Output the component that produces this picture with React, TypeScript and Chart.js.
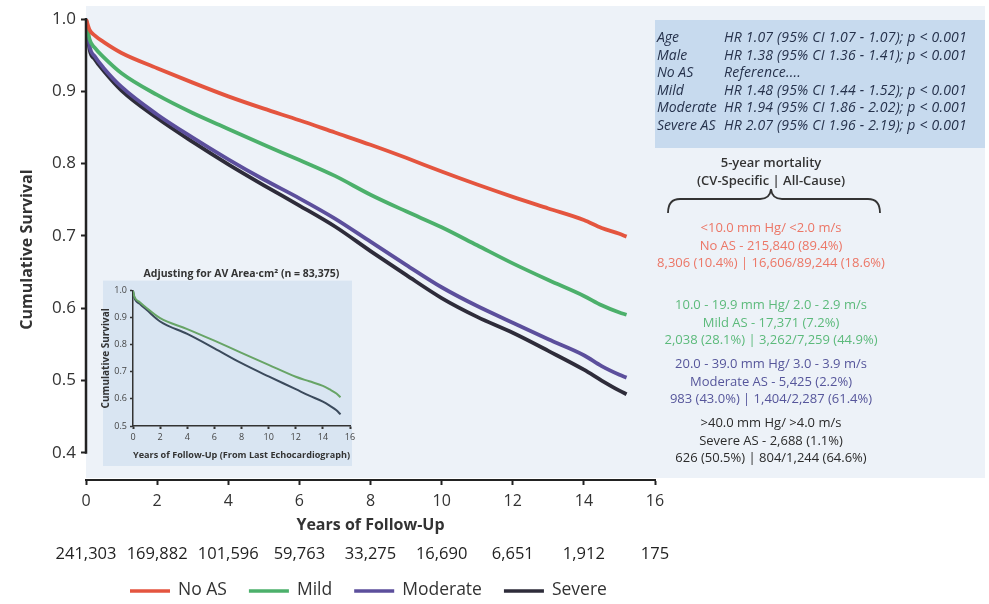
import React, { useEffect, useRef } from 'react';
import { Chart, registerables } from 'chart.js';

Chart.register(...registerables);

const FONT = '"Open Sans", "DejaVu Sans", sans-serif';

// ---- main chart data ----
const years = [0, 0.1, 0.25, 0.5, 1, 2, 3, 4, 5, 6, 7, 8, 9, 10, 11, 12, 13, 14, 14.5, 15, 15.2];
const noAS = [1.0, 0.985, 0.977, 0.968, 0.953, 0.932, 0.912, 0.893, 0.876, 0.86, 0.843, 0.826, 0.808, 0.789, 0.771, 0.754, 0.738, 0.722, 0.711, 0.703, 0.699];
const mild = [1.0, 0.972, 0.96, 0.947, 0.925, 0.895, 0.87, 0.848, 0.826, 0.805, 0.783, 0.757, 0.734, 0.712, 0.687, 0.662, 0.639, 0.617, 0.604, 0.594, 0.591];
const moderate = [1.0, 0.962, 0.948, 0.932, 0.906, 0.868, 0.836, 0.806, 0.778, 0.752, 0.724, 0.692, 0.66, 0.629, 0.603, 0.58, 0.557, 0.535, 0.52, 0.508, 0.504];
const severe = [1.0, 0.958, 0.944, 0.928, 0.901, 0.863, 0.83, 0.799, 0.77, 0.742, 0.713, 0.679, 0.646, 0.614, 0.588, 0.566, 0.541, 0.515, 0.5, 0.486, 0.481];

const seriesNames = ['No AS', 'Mild', 'Moderate', 'Severe'];
const seriesColors = ['#e4553f', '#4cb06b', '#5c4f9c', '#2e2c3a'];

const yTicks = [0.4, 0.5, 0.6, 0.7, 0.8, 0.9, 1.0];
const riskYears = [0, 2, 4, 6, 8, 10, 12, 14, 16];
const riskCounts = ['241,303', '169,882', '101,596', '59,763', '33,275', '16,690', '6,651', '1,912', '175'];

// ---- inset data ----
const insetYears = [0, 0.1, 0.5, 1, 2, 4, 6, 8, 10, 12, 13, 14, 14.5, 15, 15.3];
const insetMild = [1.0, 0.978, 0.957, 0.936, 0.898, 0.858, 0.815, 0.77, 0.726, 0.682, 0.665, 0.648, 0.635, 0.62, 0.606];
const insetSevere = [1.0, 0.974, 0.951, 0.929, 0.886, 0.84, 0.787, 0.732, 0.683, 0.636, 0.612, 0.59, 0.575, 0.558, 0.543];
const insetTicksY = [0.5, 0.6, 0.7, 0.8, 0.9, 1.0];

// ---- text panel ----
const hrLabels = ['Age', 'Male', 'No AS', 'Mild', 'Moderate', 'Severe AS'];
const hrValues = [
  'HR 1.07 (95% CI 1.07 - 1.07); p < 0.001',
  'HR 1.38 (95% CI 1.36 - 1.41); p < 0.001',
  'Reference....',
  'HR 1.48 (95% CI 1.44 - 1.52); p < 0.001',
  'HR 1.94 (95% CI 1.86 - 2.02); p < 0.001',
  'HR 2.07 (95% CI 1.96 - 2.19); p < 0.001',
];
const groupRanges = ['<10.0 mm Hg/ <2.0 m/s', '10.0 - 19.9 mm Hg/ 2.0 - 2.9 m/s', '20.0 - 39.0 mm Hg/ 3.0 - 3.9 m/s', '>40.0 mm Hg/ >4.0 m/s'];
const groupCounts = ['No AS - 215,840 (89.4%)', 'Mild AS - 17,371 (7.2%)', 'Moderate AS - 5,425 (2.2%)', 'Severe AS - 2,688 (1.1%)'];
const groupMortality = ['8,306 (10.4%) | 16,606/89,244 (18.6%)', '2,038 (28.1%) | 3,262/7,259 (44.9%)', '983 (43.0%) | 1,404/2,287 (61.4%)', '626 (50.5%) | 804/1,244 (64.6%)'];
const groupTextColors = ['#ec7666', '#5cba7b', '#56569b', '#2b2b2b'];
const groupTops = [228, 305, 364, 423];

const toPts = (xs: number[], ys: number[]) => xs.map((x, i) => ({ x, y: ys[i] }));

export default function App() {
  const mainRef = useRef<HTMLCanvasElement | null>(null);
  const insetRef = useRef<HTMLCanvasElement | null>(null);

  useEffect(() => {
    const mainDecor = {
      id: 'mainDecor',
      beforeDraw(chart: any) {
        const { ctx, chartArea } = chart;
        ctx.save();
        ctx.fillStyle = '#ffffff';
        ctx.fillRect(0, 0, chart.width, chart.height);
        ctx.fillStyle = '#edf2f8';
        ctx.fillRect(chartArea.left, 6, 985 - chartArea.left, chartArea.bottom - 8);
        ctx.fillStyle = '#c7daee';
        ctx.fillRect(chartArea.right, 20, 985 - chartArea.right, 128);
        ctx.restore();
      },
      afterDraw(chart: any) {
        const { ctx, chartArea, scales } = chart;
        const y = scales.y;
        const x = scales.x;
        ctx.save();
        // y axis line from 1.0 to 0.4
        ctx.strokeStyle = '#222';
        ctx.lineWidth = 2.5;
        ctx.beginPath();
        ctx.moveTo(chartArea.left, y.getPixelForValue(1.0) - 1);
        ctx.lineTo(chartArea.left, y.getPixelForValue(0.4) + 1);
        ctx.stroke();

        // brace
        ctx.strokeStyle = '#333';
        ctx.lineWidth = 1.8;
        ctx.beginPath();
        ctx.moveTo(668, 213);
        ctx.quadraticCurveTo(668, 199, 680, 199);
        ctx.lineTo(760, 199);
        ctx.quadraticCurveTo(770, 199, 771, 189);
        ctx.quadraticCurveTo(772, 199, 782, 199);
        ctx.lineTo(868, 199);
        ctx.quadraticCurveTo(880, 199, 880, 213);
        ctx.stroke();

        // numbers at risk
        ctx.fillStyle = '#222';
        ctx.font = `16.5px ${FONT}`;
        ctx.textAlign = 'center';
        ctx.textBaseline = 'middle';
        riskYears.forEach((yr, i) => {
          ctx.fillText(riskCounts[i], x.getPixelForValue(yr), 554);
        });

        // legend
        ctx.font = `17.5px ${FONT}`;
        ctx.textAlign = 'left';
        let cx = 130;
        chart.data.datasets.forEach((ds: any) => {
          ctx.strokeStyle = ds.borderColor;
          ctx.lineWidth = 3.5;
          ctx.beginPath();
          ctx.moveTo(cx, 591);
          ctx.lineTo(cx + 40, 591);
          ctx.stroke();
          ctx.fillStyle = '#333';
          ctx.fillText(ds.label, cx + 48, 590);
          cx += 48 + ctx.measureText(ds.label).width + 22;
        });
        ctx.restore();
      },
    };

    const mainChart = new Chart(mainRef.current as HTMLCanvasElement, {
      type: 'line',
      data: {
        datasets: [noAS, mild, moderate, severe].map((vals, i) => ({
          label: seriesNames[i],
          data: toPts(years, vals),
          borderColor: seriesColors[i],
          backgroundColor: seriesColors[i],
          borderWidth: 3.8,
          pointRadius: 0,
          cubicInterpolationMode: 'monotone',
          fill: false,
        })),
      },
      options: {
        responsive: false,
        animation: false,
        devicePixelRatio: 1,
        layout: { padding: { left: 0, right: 334, top: 19, bottom: 0 } },
        plugins: { legend: { display: false }, tooltip: { enabled: false } },
        scales: {
          x: {
            type: 'linear',
            min: 0,
            max: 16,
            ticks: { stepSize: 2, font: { family: FONT, size: 16 }, color: '#333', padding: 7, maxRotation: 0 },
            grid: { drawOnChartArea: false, drawTicks: true, tickLength: 5, tickWidth: 2, color: '#222' },
            border: { display: true, color: '#222', width: 2 },
            title: {
              display: true,
              text: 'Years of Follow-Up',
              font: { family: FONT, size: 16, weight: 'bold' },
              color: '#333',
              padding: { top: 0, bottom: 69 },
            },
            afterFit: (s: any) => { s.height = 124; },
          },
          y: {
            type: 'linear',
            min: 0.3624,
            max: 1.0,
            afterBuildTicks: (s: any) => { s.ticks = yTicks.map((v) => ({ value: v })); },
            ticks: { font: { family: FONT, size: 17 }, color: '#333', padding: 5, callback: (v: any) => Number(v).toFixed(1) },
            grid: { drawOnChartArea: false, drawTicks: true, tickLength: 5, tickWidth: 2, color: '#222' },
            border: { display: false },
            title: {
              display: true,
              text: 'Cumulative Survival',
              font: { family: FONT, size: 16, weight: 'bold' },
              color: '#333',
              padding: { top: 18, bottom: 0 },
            },
            afterFit: (s: any) => { s.width = 86; },
          },
        },
      } as any,
      plugins: [mainDecor],
    });

    const insetDecor = {
      id: 'insetDecor',
      beforeDraw(chart: any) {
        const { ctx, chartArea } = chart;
        ctx.save();
        ctx.fillStyle = '#d9e5f2';
        ctx.fillRect(8, chartArea.top - 10, chartArea.right + 2 - 8, chart.height - 4 - (chartArea.top - 10));
        ctx.restore();
      },
    };

    const insetChart = new Chart(insetRef.current as HTMLCanvasElement, {
      type: 'line',
      data: {
        datasets: [
          { label: 'Mild', data: toPts(insetYears, insetMild), borderColor: '#67a466', borderWidth: 2, pointRadius: 0, cubicInterpolationMode: 'monotone' },
          { label: 'Severe', data: toPts(insetYears, insetSevere), borderColor: '#3b4a5c', borderWidth: 2, pointRadius: 0, cubicInterpolationMode: 'monotone' },
        ],
      },
      options: {
        responsive: false,
        animation: false,
        devicePixelRatio: 1,
        layout: { padding: { left: 0, right: 15, top: 0, bottom: 0 } },
        plugins: {
          legend: { display: false },
          tooltip: { enabled: false },
          title: {
            display: true,
            fullSize: false,
            text: 'Adjusting for AV Area·cm² (n = 83,375)',
            font: { family: FONT, size: 10.5, weight: 'bold' },
            color: '#333',
            padding: { top: 3, bottom: 10 },
          },
        },
        scales: {
          x: {
            type: 'linear',
            min: 0,
            max: 16,
            ticks: { stepSize: 2, font: { family: FONT, size: 9 }, color: '#444', padding: 3, maxRotation: 0 },
            grid: { drawOnChartArea: false, tickLength: 3, tickWidth: 2, color: '#333' },
            border: { display: true, color: '#333', width: 1.5 },
            title: {
              display: true,
              text: 'Years of Follow-Up (From Last Echocardiograph)',
              font: { family: FONT, size: 9.5, weight: 'bold' },
              color: '#333',
              padding: { top: 0, bottom: 9 },
            },
            afterFit: (s: any) => { s.height = 44; },
          },
          y: {
            type: 'linear',
            min: 0.5,
            max: 1.0,
            afterBuildTicks: (s: any) => { s.ticks = insetTicksY.map((v) => ({ value: v })); },
            ticks: { font: { family: FONT, size: 9 }, color: '#444', padding: 3, callback: (v: any) => Number(v).toFixed(1) },
            grid: { drawOnChartArea: false, tickLength: 3, tickWidth: 1.5, color: '#333' },
            border: { display: true, color: '#333', width: 1.5 },
            title: {
              display: true,
              text: 'Cumulative Survival',
              font: { family: FONT, size: 10, weight: 'bold' },
              color: '#333',
              padding: { top: 5, bottom: 0 },
            },
            afterFit: (s: any) => { s.width = 38; },
          },
        },
      } as any,
      plugins: [insetDecor],
    });

    return () => {
      mainChart.destroy();
      insetChart.destroy();
    };
  }, []);

  const center = 771;
  const hrStyle: any = { position: 'absolute', lineHeight: '16px', fontSize: 14, fontStyle: 'italic', color: '#26324c', whiteSpace: 'nowrap', letterSpacing: '0.2px' };
  return (
    <div style={{ position: 'fixed', left: 0, top: 0, width: 989, height: 604, background: '#fff', overflow: 'hidden', fontFamily: FONT }}>
      <canvas ref={mainRef} width={989} height={604} style={{ position: 'absolute', left: 0, top: 0, width: 989, height: 604 }} />
      <canvas ref={insetRef} width={270} height={205} style={{ position: 'absolute', left: 95, top: 265, width: 270, height: 205 }} />
      {hrLabels.map((lab, i) => (
        <div key={'hl' + i} style={{ ...hrStyle, left: 657, top: 37 + i * 17.6 - 8, letterSpacing: '0px' }}>{lab}</div>
      ))}
      {hrValues.map((val, i) => (
        <div key={'hv' + i} style={{ ...hrStyle, left: 724, top: 37 + i * 17.6 - 8 }}>{val}</div>
      ))}
      <div style={{ position: 'absolute', left: center - 150, width: 300, top: 153, textAlign: 'center', fontSize: 13, fontWeight: 600, lineHeight: '18px', color: '#333' }}>
        <div>5-year mortality</div>
        <div>(CV-Specific | All-Cause)</div>
      </div>
      {groupRanges.map((r, i) => (
        <div key={'g' + i} style={{ position: 'absolute', left: center - 170, width: 340, top: groupTops[i] - 9, textAlign: 'center', fontSize: 13, lineHeight: '17.5px', color: groupTextColors[i], whiteSpace: 'nowrap' }}>
          <div>{r}</div>
          <div>{groupCounts[i]}</div>
          <div>{groupMortality[i]}</div>
        </div>
      ))}
    </div>
  );
}
